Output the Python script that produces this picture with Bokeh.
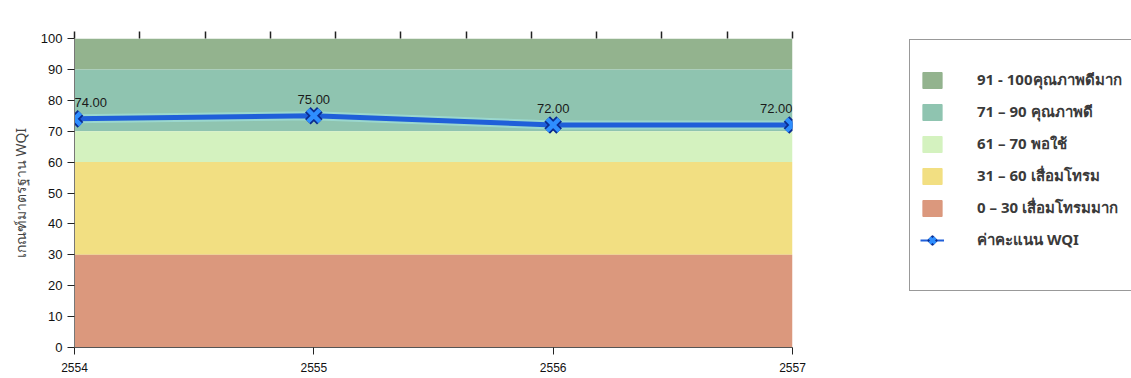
import numpy as np
from bokeh.plotting import figure
from bokeh.layouts import row
from bokeh.models import (ColumnDataSource, Legend, LegendItem, LinearAxis,
                          FixedTicker, Range1d, CustomJSTickFormatter)
from bokeh.core.properties import value
from bokeh.embed import file_html
from bokeh.resources import INLINE

# ---- data ----
years = [2554, 2555, 2556, 2557]
wqi = [74.0, 75.0, 72.0, 72.0]
band_labels = ["91 - 100คุณภาพดีมาก", "71 – 90 คุณภาพดี", "61 – 70 พอใช้",
               "31 – 60 เสื่อมโทรม", "0 – 30 เสื่อมโทรมมาก"]
band_bottom = [90, 70, 60, 30, 0]
band_top = [100, 90, 70, 60, 30]
band_colors = ["#93B38E", "#8FC4B0", "#D4F2BF", "#F2DF82", "#DB987D"]
series_label = "ค่าคะแนน WQI"
y_label = "เกณฑ์มาตรฐาน WQI"
y_ticks = list(range(0, 101, 10))

tickfont = "Liberation Sans"
H = 376
W1, W2 = 850, 281

LINE_C, GLOW_C, MK_OUT_C, MK_IN_C = "#1F5FD9", "#A8F0F5", "#0B2C8F", "#2E8EFF"

src = ColumnDataSource(dict(x=years, y=wqi,
                            lbl=["%.2f" % v for v in wqi],
                            align=["left"] + ["center"] * (len(years) - 2) + ["right"]))
band_src = ColumnDataSource(dict(b=band_bottom, t=band_top, c=band_colors,
                                 l=[years[0]] * len(band_top), r=[years[-1]] * len(band_top)))

p = figure(width=W1, height=H, output_backend="svg", toolbar_location=None,
           x_range=Range1d(years[0], years[-1]), y_range=Range1d(0, 100),
           min_border_left=74, min_border_right=58, min_border_top=38,
           min_border_bottom=H - 347)
p.outline_line_color = None
p.xgrid.visible = False
p.ygrid.visible = False

# bands
p.quad(left="l", right="r", bottom="b", top="t", source=band_src,
       fill_color="c", line_color="c", line_alpha=0.0)

# WQI series
p.line("x", "y", source=src, line_color=GLOW_C, line_width=9, line_alpha=0.45)
p.line("x", "y", source=src, line_color=LINE_C, line_width=5)
p.scatter("x", "y", source=src, marker="x", size=17, line_color=MK_OUT_C, line_width=8)
p.scatter("x", "y", source=src, marker="x", size=17, line_color=MK_IN_C, line_width=4.5)
p.text("x", "y", text="lbl", source=src, text_align="align", text_baseline="bottom",
       y_offset=-12, text_font=value(tickfont), text_font_size="13px", text_color="#1a1a1a")

# axes
p.xaxis.ticker = FixedTicker(ticks=years)
p.xaxis.major_label_text_font = tickfont
p.xaxis.major_label_text_font_size = "12px"
p.xaxis.major_label_text_color = "#111111"
p.xaxis.major_label_standoff = 8
p.xaxis.major_tick_out = 7
p.xaxis.major_tick_in = 0
p.xaxis.minor_tick_line_color = None
p.xaxis.axis_line_color = "#555555"
p.xaxis.major_tick_line_color = "#222222"

p.yaxis.ticker = FixedTicker(ticks=y_ticks)
p.yaxis.major_label_text_font = tickfont
p.yaxis.major_label_text_font_size = "13px"
p.yaxis.major_label_text_color = "#111111"
p.yaxis.major_tick_out = 7
p.yaxis.major_tick_in = 0
p.yaxis.minor_tick_line_color = None
p.yaxis.axis_line_color = "#777777"
p.yaxis.major_tick_line_color = "#222222"
p.yaxis.axis_label = y_label
p.yaxis.axis_label_text_font = "Noto Sans"
p.yaxis.axis_label_text_font_style = "normal"
p.yaxis.axis_label_text_font_size = "14px"
p.yaxis.axis_label_standoff = 8

top_axis = LinearAxis(ticker=FixedTicker(ticks=list(np.linspace(years[0], years[-1], 12))),
                      formatter=CustomJSTickFormatter(code="return ''"),
                      axis_line_color=None, major_tick_out=7, major_tick_in=0,
                      major_tick_line_color="#222222", major_tick_line_width=1.5,
                      minor_tick_line_color=None, major_label_text_font_size="1px")
p.add_layout(top_axis, "above")

# ---- legend panel: same data drawn outside this panel's visible range ----
lg = figure(width=W2, height=H, output_backend="svg", toolbar_location=None,
            x_range=Range1d(0, 1), y_range=Range1d(0, 1),
            min_border_left=58, min_border_right=0, min_border_top=10, min_border_bottom=0)
lg.axis.visible = False
lg.grid.visible = False
lg.outline_line_color = None
lg.title.visible = False
lg.title.text_font_size = "1px"
lg.title.standoff = 0

items = []
for i, (lab, c) in enumerate(zip(band_labels, band_colors)):
    one = ColumnDataSource(dict(l=[years[0]], r=[years[-1]], b=[band_bottom[i]], t=[band_top[i]]))
    rr = lg.quad(left="l", right="r", bottom="b", top="t", source=one,
                 fill_color=c, line_color=c)
    items.append(LegendItem(label=lab, renderers=[rr]))
l1 = lg.line("x", "y", source=src, line_color=LINE_C, line_width=2)
m1 = lg.scatter("x", "y", source=src, marker="x", size=15, line_color=MK_OUT_C, line_width=7)
m2 = lg.scatter("x", "y", source=src, marker="x", size=15, line_color=MK_IN_C, line_width=3.5)
items.append(LegendItem(label=series_label, renderers=[l1, m1, m2]))
blank = lg.quad(left="l", right="r", bottom="b", top="t", source=band_src,
                fill_alpha=0, line_alpha=0)
items.append(LegendItem(label=" ", renderers=[blank]))

legend = Legend(items=items, location="top_left", orientation="vertical",
                title=" ", title_text_font_size="12px", title_standoff=4,
                border_line_color="#333333", border_line_width=1,
                background_fill_color="white", background_fill_alpha=1.0,
                glyph_width=24, glyph_height=20, label_height=20,
                spacing=8, padding=10, label_standoff=33,
                label_text_font="Noto Sans", label_text_font_size="15px",
                label_text_font_style="bold",
                label_text_color="#3a3a3a", label_width=200, margin=1)
lg.add_layout(legend, "center")

layout = row(p, lg, spacing=0)
open("out.html", "w").write(file_html(layout, INLINE))
